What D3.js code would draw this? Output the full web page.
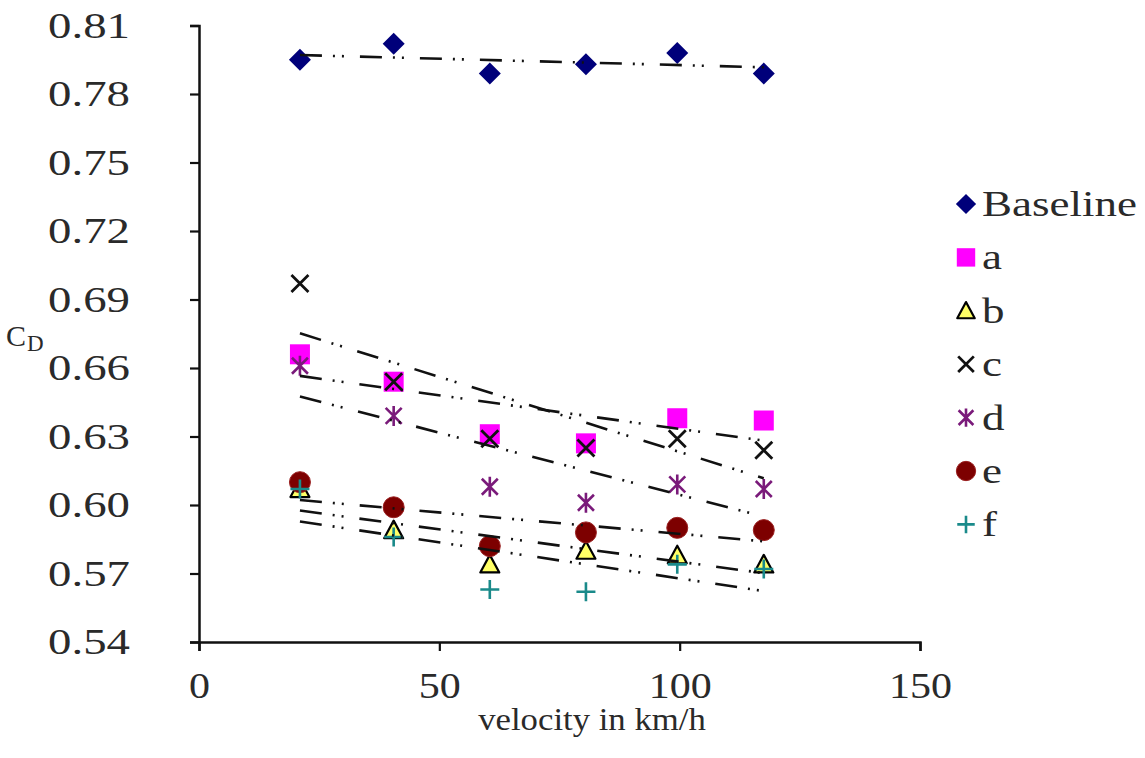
<!DOCTYPE html>
<html>
<head>
<meta charset="utf-8">
<script src="https://cdn.jsdelivr.net/npm/d3@7"></script>
<style>
  html, body { margin: 0; padding: 0; background: #fff; }
  svg { display: block; }
  text { font-family: "Liberation Serif", "Times New Roman", serif; fill: #2a2a2a; }
</style>
</head>
<body>
<svg id="chart" width="1145" height="758"></svg>
<script>
// ---- data ----
const velocities = [21, 40.5, 60.5, 80.5, 99.5, 117.5];
const seriesNames = ["Baseline", "a", "b", "c", "d", "e", "f"];
const baseline = [0.795, 0.802, 0.789, 0.793, 0.798, 0.789];
const seriesA  = [0.666, 0.654, 0.631, 0.627, 0.638, 0.637];
const seriesB  = [0.607, 0.589, 0.574, 0.580, 0.578, 0.574];
const seriesC  = [0.697, 0.654, 0.629, 0.625, 0.629, 0.624];
const seriesD  = [0.661, 0.639, 0.608, 0.601, 0.609, 0.607];
const seriesE  = [0.610, 0.599, 0.582, 0.588, 0.590, 0.589];
const seriesF  = [0.607, 0.586, 0.563, 0.562, 0.574, 0.572];
const yTicks = [0.54, 0.57, 0.60, 0.63, 0.66, 0.69, 0.72, 0.75, 0.78, 0.81];
const xTicks = [0, 50, 100, 150];
const xTitle = "velocity in km/h";

const allValues = [baseline, seriesA, seriesB, seriesC, seriesD, seriesE, seriesF];
const styles = {
  "Baseline": { shape: "diamond", fill: "#00007a", stroke: "none" },
  "a": { shape: "square", fill: "#ff00ff", stroke: "none" },
  "b": { shape: "triangle", fill: "#ffff66", stroke: "#000" },
  "c": { shape: "x", fill: "none", stroke: "#111" },
  "d": { shape: "star", fill: "none", stroke: "#7a1a7a" },
  "e": { shape: "circle", fill: "#7d0000", stroke: "#9a2020" },
  "f": { shape: "plus", fill: "none", stroke: "#1a8a8a" }
};
const series = seriesNames.map((n, i) => ({
  name: n,
  points: velocities.map((v, j) => ({ x: v, y: allValues[i][j] }))
}));

const svg = d3.select("#chart");
const x = d3.scaleLinear().domain([0, 150]).range([199, 920]);
const y = d3.scaleLinear().domain([0.54, 0.81]).range([642, 25.5]);

// widen text horizontally (the reference glyphs are stretched)
function stretch(sel, k) {
  sel.each(function () {
    const w = this.getComputedTextLength();
    d3.select(this).attr("textLength", w * k).attr("lengthAdjust", "spacingAndGlyphs");
  });
}

// axes
const yAxis = d3.axisLeft(y).tickValues(yTicks).tickFormat(d3.format(".2f")).tickSize(9).tickPadding(60);
const xAxis = d3.axisBottom(x).tickValues(xTicks).tickFormat(d3.format("d")).tickSize(9).tickPadding(22);

const gy = svg.append("g").attr("transform", `translate(${x(0)},0)`).call(yAxis);
const gx = svg.append("g").attr("transform", `translate(0,${y(0.54)})`).call(xAxis);
[gy, gx].forEach(g => {
  g.select(".domain").attr("stroke", "#111").attr("stroke-width", 2.5);
  g.selectAll(".tick line").attr("stroke", "#111").attr("stroke-width", 2.2);
  g.selectAll(".tick text").attr("font-family", "Liberation Serif, serif").attr("fill", "#333");
});
gy.selectAll(".tick text").attr("font-size", 36).attr("text-anchor", "end");
gx.selectAll(".tick text").attr("font-size", 35);
stretch(gy.selectAll(".tick text"), 1.3);
stretch(gx.selectAll(".tick text"), 1.2);

// axis titles
const xt = svg.append("text").attr("x", 592).attr("y", 730).attr("text-anchor", "middle")
  .attr("font-size", 31).text(xTitle);
stretch(xt, 1.12);
const yt = svg.append("text").attr("x", 6).attr("y", 346).attr("font-size", 30);
yt.append("tspan").text("C");
yt.append("tspan").attr("font-size", 23).attr("dy", 5).attr("dx", 1).text("D");

// marker drawing
function drawMarker(g, shape, st, size) {
  const h = size / 2;
  if (shape === "diamond") {
    g.append("path").attr("d", `M0,${-h}L${h},0L0,${h}L${-h},0Z`).attr("fill", st.fill);
  } else if (shape === "square") {
    g.append("rect").attr("x", -h).attr("y", -h).attr("width", size).attr("height", size).attr("fill", st.fill);
  } else if (shape === "triangle") {
    g.append("path").attr("d", `M0,${-h}L${h},${h * 0.85}L${-h},${h * 0.85}Z`)
      .attr("fill", st.fill).attr("stroke", st.stroke).attr("stroke-width", 2.2).attr("stroke-linejoin", "round");
  } else if (shape === "x") {
    const k = h * 0.85;
    g.append("path").attr("d", `M${-k},${-k}L${k},${k}M${-k},${k}L${k},${-k}`)
      .attr("stroke", st.stroke).attr("stroke-width", 2.8).attr("fill", "none");
  } else if (shape === "star") {
    const k = h * 0.8;
    g.append("path").attr("d", `M${-k},${-k}L${k},${k}M${-k},${k}L${k},${-k}M0,${-h}L0,${h}`)
      .attr("stroke", st.stroke).attr("stroke-width", 2.6).attr("fill", "none");
  } else if (shape === "circle") {
    g.append("circle").attr("r", h).attr("fill", st.fill).attr("stroke", st.stroke).attr("stroke-width", 1);
  } else if (shape === "plus") {
    g.append("path").attr("d", `M${-h},0L${h},0M0,${-h}L0,${h}`)
      .attr("stroke", st.stroke).attr("stroke-width", 2.6).attr("fill", "none");
  }
}
const markerSize = { diamond: 22, square: 20, triangle: 19, x: 20, star: 20, circle: 21, plus: 19 };

// markers
series.forEach(s => {
  const st = styles[s.name];
  const g = svg.append("g");
  s.points.forEach(p => {
    const m = g.append("g").attr("transform", `translate(${x(p.x)},${y(p.y)})`);
    drawMarker(m, st.shape, st, markerSize[st.shape]);
  });
});

// linear trend lines (least squares fit of each series)
series.forEach(s => {
  const n = s.points.length;
  const mx = d3.mean(s.points, p => p.x), my = d3.mean(s.points, p => p.y);
  const sxy = d3.sum(s.points, p => (p.x - mx) * (p.y - my));
  const sxx = d3.sum(s.points, p => (p.x - mx) ** 2);
  const b = sxy / sxx, a = my - b * mx;
  const x0 = velocities[0], x1 = velocities[n - 1];
  svg.append("line")
    .attr("x1", x(x0)).attr("y1", y(a + b * x0))
    .attr("x2", x(x1)).attr("y2", y(a + b * x1))
    .attr("stroke", "#111").attr("stroke-width", 2.6)
    .attr("stroke-dasharray", "22,11,2,7,2,16");
});

// legend
const legend = svg.append("g");
seriesNames.forEach((n, i) => {
  const st = styles[n];
  const ly = 204 + i * 53.4;
  const m = legend.append("g").attr("transform", `translate(966,${ly})`);
  drawMarker(m, st.shape, st, markerSize[st.shape] * 0.92);
  const t = legend.append("text").attr("x", 982).attr("y", ly + 12).attr("font-size", 36).text(n);
  stretch(t, 1.25);
});
</script>
</body>
</html>
